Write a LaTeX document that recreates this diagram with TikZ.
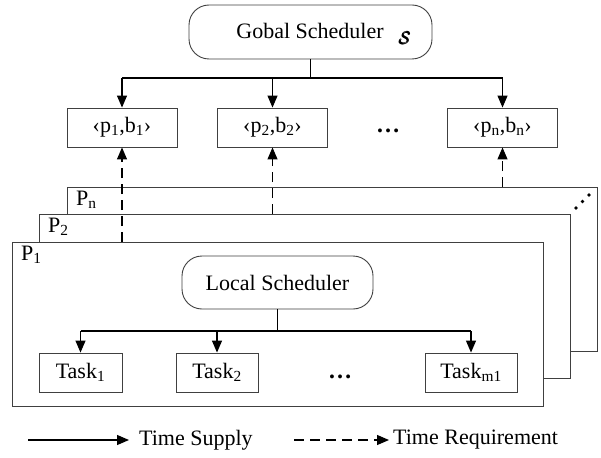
\documentclass[tikz,border=0pt]{standalone}
\usepackage{amsmath}
\usepackage{fontspec}
\setmainfont{Liberation Serif}
\usetikzlibrary{arrows.meta}
\begin{document}
\begin{tikzpicture}[x=1pt,y=-1pt,
  font=\fontsize{22}{26}\selectfont,
  box/.style={draw=black!75,line width=0.9pt,fill=white,inner sep=0pt},
  roundbox/.style={box,rounded corners=20pt},
  layer/.style={draw=black!75,line width=0.9pt,fill=white,inner sep=0pt,anchor=north west},
  dotsnode/.style={font=\fontsize{24}{26}\selectfont\bfseries,inner sep=0pt},
  supply/.style={line width=1.2pt,-{Triangle[length=12pt,width=10pt]}},
  demand/.style={line width=1.2pt,dash pattern=on 10pt off 6pt,-{Triangle[length=12pt,width=10pt]}},
  link/.style={line width=1.2pt}]
\useasboundingbox (0,0) rectangle (601,457);

% global scheduler and the per-partition interfaces
\node[roundbox,minimum width=243pt,minimum height=54pt] (gs) at (310.5,32) {};
\node[anchor=base,inner sep=0pt] (gstext) at (310,39) {Gobal Scheduler};
\node[inner sep=0pt] (gssym) at (405,38) {\fontsize{18}{18}\selectfont$\pmb{\mathcal{S}}$};

\node[box,minimum width=110pt,minimum height=39pt] (i1) at (122,127.5) {‹p\textsubscript{1},b\textsubscript{1}›};
\node[box,minimum width=110pt,minimum height=39pt] (i2) at (272.5,127.5) {‹p\textsubscript{2},b\textsubscript{2}›};
\node[box,minimum width=110pt,minimum height=39pt] (in) at (502.5,127.5) {‹p\textsubscript{n},b\textsubscript{n}›};
\node[dotsnode] (idots) at (388,131) {…};

\coordinate (gsj) at (gs.south |- 0,78);
\draw[link] (gs.south) -- (gsj);
\draw[link] (i1.north |- gsj) -- (in.north |- gsj);
\draw[supply] (i1.north |- gsj) -- (i1.north);
\draw[supply] (i2.north |- gsj) -- (i2.north);
\draw[supply] (in.north |- gsj) -- (in.north);

% stacked partitions
\node[layer,minimum width=530pt,minimum height=164pt] (pn) at (67,187) {};
\node[layer,minimum width=531pt,minimum height=164pt] (p2) at (39,214) {};
\node[layer,minimum width=531pt,minimum height=164pt] (p1) at (12,242) {};
\node[anchor=north west,inner sep=0pt] (pnlabel) at ([xshift=9pt,yshift=-4pt]pn.north west) {P\textsubscript{n}};
\node[anchor=north west,inner sep=0pt] (p2label) at ([xshift=9pt,yshift=-4pt]p2.north west) {P\textsubscript{2}};
\node[anchor=north west,inner sep=0pt] (p1label) at ([xshift=9pt,yshift=-4pt]p1.north west) {P\textsubscript{1}};
\fill (576,208) circle (1.9pt) (582.5,201.5) circle (1.9pt) (589,195) circle (1.9pt);

\draw[demand] (i1.south |- p1.north) -- (i1.south);
\draw[demand] (i2.south |- p2.north) -- (i2.south);
\draw[demand] (in.south |- pn.north) -- (in.south);

% local scheduler and tasks
\node[roundbox,minimum width=191pt,minimum height=53pt] (ls) at (277.5,282.5) {Local Scheduler};
\node[box,minimum width=83pt,minimum height=39pt] (t1) at (80.5,372.5) {Task\textsubscript{1}};
\node[box,minimum width=82pt,minimum height=39pt] (t2) at (217,372.5) {Task\textsubscript{2}};
\node[box,minimum width=92pt,minimum height=39pt] (tm) at (471,372.5) {Task\textsubscript{m1}};
\node[dotsnode] (tdots) at (340,377) {…};

\coordinate (lsj) at (ls.south |- 0,331);
\draw[link] (ls.south) -- (lsj);
\draw[link] (t1.north |- lsj) -- (tm.north |- lsj);
\draw[supply] (t1.north |- lsj) -- (t1.north);
\draw[supply] (t2.north |- lsj) -- (t2.north);
\draw[supply] (tm.north |- lsj) -- (tm.north);

% legend
\coordinate (ls0) at (28,440);
\node[anchor=west,inner sep=0pt] (lsupply) at (139,440) {Time Supply};
\draw[supply] (ls0) -- ([xshift=-10pt]lsupply.west);
\coordinate (ld0) at (294,440);
\node[anchor=west,inner sep=0pt] (ldemand) at (393,440) {Time Requirement};
\draw[demand] (ld0) -- ([xshift=-4pt]ldemand.west);
\end{tikzpicture}
\end{document}
